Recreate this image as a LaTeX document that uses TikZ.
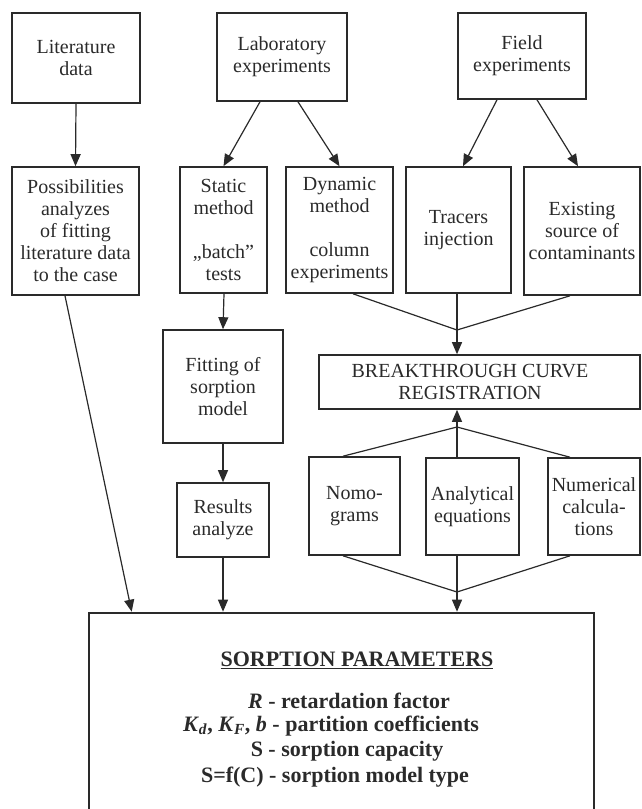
\documentclass[tikz,border=0pt]{standalone}
\usepackage{fontspec}
\setmainfont{Liberation Serif}
\usetikzlibrary{arrows.meta}
\definecolor{ink}{HTML}{2A2A2A}
\begin{document}
\begin{tikzpicture}[x=1pt,y=-1pt,
  bx/.style={draw=ink, line width=1.6pt, inner sep=0pt, align=center, text=ink,
             font=\fontsize{20}{22}\selectfont},
  plain/.style={inner sep=0pt, align=center, text=ink, font=\fontsize{20}{22}\selectfont},
  big/.style={inner sep=0pt, text=ink, font=\fontsize{22}{25}\selectfont\bfseries},
  ln/.style={draw=ink, line width=1.2pt},
  arr/.style={draw=ink, line width=1.2pt, -{Triangle[length=12pt,width=10pt]}}]
\useasboundingbox (0,0) rectangle (641,809);
\clip (0,0) rectangle (641,809);

% top row
\node[bx, minimum width=128pt, minimum height=90pt] (lit) at (76,58) {Literature\\data};
\node[bx, minimum width=130pt, minimum height=88pt] (lab) at (282,57) {Laboratory\\experiments};
\node[bx, minimum width=128pt, minimum height=86pt] (field) at (522,56) {Field\\experiments};

% second row
\node[bx, minimum width=127pt, minimum height=128pt] (poss) at (75.5,231) {Possibilities\\analyzes\\of fitting\\literature data\\to the case};
\node[bx, minimum width=87pt, minimum height=126pt] (static) at (223.5,230) {Static\\method\\[22pt]„batch”\\tests};
\node[bx, minimum width=107pt, minimum height=126pt] (dyn) at (339.5,230) {Dynamic\\method\\[22pt]column\\experiments};
\node[bx, minimum width=105pt, minimum height=126pt] (trac) at (458.5,230) {Tracers\\injection};
\node[bx, minimum width=116pt, minimum height=128pt] (exist) at (582,231) {Existing\\source of\\contaminants};

% left column
\node[bx, minimum width=120pt, minimum height=113pt] (fit) at (223,386.5) {Fitting of\\sorption\\model};
\node[bx, minimum width=92pt, minimum height=74pt] (res) at (223,520) {Results\\analyze};

% breakthrough
\node[bx, minimum width=321pt, minimum height=54pt] (btc) at (479.5,382) {};
\node[plain] (btctext) at (470,381.5) {BREAKTHROUGH CURVE\\REGISTRATION};

% methods
\node[bx, minimum width=91pt, minimum height=98pt] (nomo) at (354.5,506) {Nomo-\\grams};
\node[bx, minimum width=93pt, minimum height=97pt] (anal) at (472.5,506.5) {Analytical\\equations};
\node[bx, minimum width=92pt, minimum height=97pt] (numer) at (594,506.5) {Numerical\\calcula-\\tions};

% sorption parameters
\node[draw=ink, line width=2.6pt, minimum width=505pt, minimum height=202pt, inner sep=0pt] (sorp) at (341.5,714) {};
\node[big] (t0) at (357,660) {\underline{SORPTION PARAMETERS}};
\node[big] (t1) at (349,701) {\textit{R} - retardation factor};
\node[big] (t2) at (331,726) {\textit{K}\textsubscript{\textit{d}}, \textit{K}\textsubscript{\textit{F}}, \textit{b} - partition coefficients};
\node[big] (t3) at (347,751) {S - sorption capacity};
\node[big] (t4) at (335,777) {S=f(C) - sorption model type};

% junctions
\coordinate (j1) at (457,330);
\coordinate (j2) at (457,427);
\coordinate (j3) at (457,592);

% connectors
\draw[arr] (lit.south) -- (poss.north);
\draw[arr] ([xshift=-22pt]lab.south) -- (static.north);
\draw[arr] ([xshift=16pt]lab.south) -- (dyn.north);
\draw[arr] ([xshift=-25pt]field.south) -- ([xshift=4.5pt]trac.north);
\draw[arr] ([xshift=15pt]field.south) -- ([xshift=-4pt]exist.north);
\draw[arr] ([xshift=0.5pt]static.south) -- (fit.north);
\draw[arr] (fit.south) -- (res.north);
\draw[arr] (res.south) -- (res.south |- sorp.north);
\draw[arr] ([xshift=-10.5pt]poss.south) -- ([xshift=44pt]sorp.north west);

\draw[ln] ([xshift=13.5pt]dyn.south) -- (j1);
\draw[ln] ([xshift=-1.5pt]trac.south) -- (j1);
\draw[ln] ([xshift=-12pt]exist.south) -- (j1);
\draw[arr] (j1) -- (j1 |- btc.north);

\draw[ln] ([xshift=-11.5pt]nomo.north) -- (j2);
\draw[ln] ([xshift=-15.5pt]anal.north) -- (j2);
\draw[ln] ([xshift=-24pt]numer.north) -- (j2);
\draw[arr] (j2) -- (j2 |- btc.south);

\draw[ln] ([xshift=-11.5pt]nomo.south) -- (j3);
\draw[ln] ([xshift=-15.5pt]anal.south) -- (j3);
\draw[ln] ([xshift=-24pt]numer.south) -- (j3);
\draw[arr] (j3) -- (j3 |- sorp.north);
\end{tikzpicture}
\end{document}
